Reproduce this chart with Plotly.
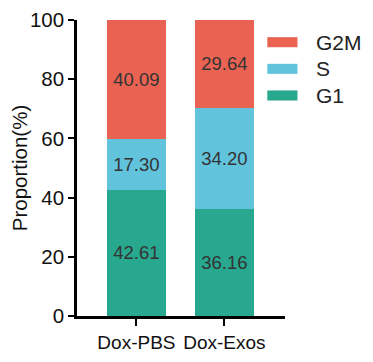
import plotly.graph_objects as go

categories = ["Dox-PBS", "Dox-Exos"]
g1_values = [42.61, 36.16]
s_values = [17.30, 34.20]
g2m_values = [40.09, 29.64]
series_names = ["G1", "S", "G2M"]
y_ticks = [0, 20, 40, 60, 80, 100]

colors = {"G1": "#27A88F", "S": "#62C3DD", "G2M": "#EA6352"}
font_family = "Arial, Liberation Sans, Helvetica, sans-serif"

fig = go.Figure()
for name, vals in zip(series_names, [g1_values, s_values, g2m_values]):
    fig.add_trace(go.Bar(
        x=categories, y=vals, name=name,
        marker=dict(color=colors[name], line=dict(width=0)),
        text=[f"{v:.2f}" for v in vals],
        textposition="inside", insidetextanchor="middle",
        textfont=dict(size=18.5, color="#333333", family=font_family),
        showlegend=False,
    ))

# custom legend (wide swatches like the reference)
legend_order = ["G2M", "S", "G1"]
for i, name in enumerate(legend_order):
    yc = 0.925 - i * 0.09
    fig.add_shape(type="rect", xref="paper", yref="paper",
                  x0=0.915, x1=1.06, y0=yc - 0.017, y1=yc + 0.017,
                  fillcolor=colors[name], line=dict(width=0))
    fig.add_annotation(xref="paper", yref="paper", x=1.14, y=yc,
                       text=name, showarrow=False, xanchor="left", yanchor="middle",
                       font=dict(size=21, color="#222222", family=font_family))

fig.update_layout(
    barmode="stack", bargap=0.33,
    width=365, height=354,
    margin=dict(l=69, r=88, t=12, b=46),
    plot_bgcolor="white", paper_bgcolor="white",
    font=dict(family=font_family, color="#111111"),
)
fig.update_yaxes(
    range=[0, 100], tickvals=y_ticks, showgrid=False, zeroline=False,
    showline=True, linecolor="black", linewidth=2.5, automargin=False,
    ticks="outside", ticklen=6, tickwidth=2, tickcolor="black",
    tickfont=dict(size=20.5, color="#111111"),
    title=dict(text="Proportion(%)", font=dict(size=20.5, color="#111111"), standoff=6),
)
fig.update_xaxes(
    range=[-0.676, 1.69], showgrid=False, zeroline=False,
    showline=True, linecolor="black", linewidth=2.5, automargin=False,
    ticks="outside", ticklen=7, tickwidth=2, tickcolor="black",
    tickfont=dict(size=19, color="#111111"),
)

fig.write_html("out.html")
